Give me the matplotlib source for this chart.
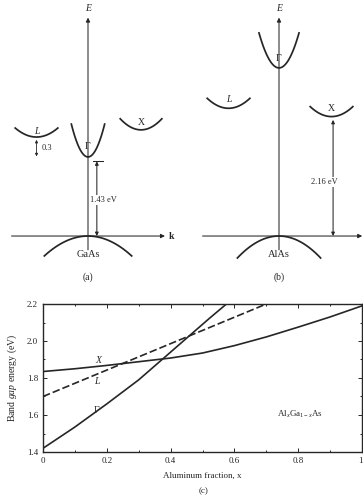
import numpy as np
import matplotlib
matplotlib.use("Agg")
import matplotlib.pyplot as plt
import matplotlib.ticker as ticker


# -------------------------------------------------
# Matplotlib configuration
# -------------------------------------------------

plt.rcParams['font.family'] = ['Liberation Serif', 'DejaVu Serif']
plt.rcParams['mathtext.fontset'] = 'custom'
plt.rcParams['mathtext.rm'] = 'Liberation Serif'
plt.rcParams['mathtext.it'] = 'Liberation Serif:italic'

INK = "#262626"


# -------------------------------------------------
# Band diagram data (valleys: L, Gamma, X)
# -------------------------------------------------

VALLEY_NAMES = ["L", "Γ", "X"]

GAAS_VALLEY_K = [-0.99, 0.0, 1.02]
GAAS_VALLEY_E = [1.79, 1.43, 1.92]
GAAS_VALLEY_HALFWIDTH = [0.41, 0.32, 0.40]
GAAS_VALLEY_CURV = [0.97, 5.8, 1.25]
GAAS_LABEL_E = [1.89, 1.62, 2.06]
GAAS_VB_HALFWIDTH = 0.84
GAAS_VB_CURV = 0.51
GAAS_GAP = 1.43
GAAS_LG_SPLIT = 0.3

ALAS_VALLEY_K = [-0.97, 0.0, 1.01]
ALAS_VALLEY_E = [2.31, 3.04, 2.16]
ALAS_VALLEY_HALFWIDTH = [0.41, 0.385, 0.41]
ALAS_VALLEY_CURV = [1.07, 4.27, 1.07]
ALAS_LABEL_E = [2.46, 3.21, 2.31]
ALAS_VB_HALFWIDTH = 0.80
ALAS_VB_CURV = 0.62
ALAS_GAP = 2.16


# -------------------------------------------------
# Band gap vs aluminum fraction data
# -------------------------------------------------

GAMMA_X = [0.0, 0.1, 0.2, 0.3, 0.38, 0.46, 0.52, 0.575]
GAMMA_E = [1.42, 1.535, 1.66, 1.79, 1.91, 2.03, 2.12, 2.2]

XVAL_X = [0.0, 0.1, 0.2, 0.3, 0.4, 0.5, 0.6, 0.7, 0.8, 0.9, 1.0]
XVAL_E = [1.835, 1.85, 1.868, 1.888, 1.908, 1.935, 1.975, 2.022, 2.075, 2.13, 2.19]

LVAL_X = [0.0, 0.7]
LVAL_E = [1.70, 2.2]


# -------------------------------------------------
# Band diagram
# -------------------------------------------------

def parabola(ax, k0, e0, half, curv, sign=1):

    k = np.linspace(k0 - half, k0 + half, 60)
    ax.plot(k, e0 + sign * curv * (k - k0) ** 2, color=INK, lw=1.25)


def band_diagram(ax, valley_k, valley_e, halfw, curv, label_e,
                 vb_half, vb_curv, material, panel, k_right):

    ax.set_ylim(-0.976, 4.268)
    ax.axis("off")

    # axes with arrows
    ax.annotate("", xy=(0, 3.95), xytext=(0, -0.25),
                arrowprops=dict(arrowstyle="-|>", lw=0.75, color=INK,
                                mutation_scale=6, shrinkA=0, shrinkB=0))
    ax.annotate("", xy=(k_right, 0), xytext=(-1.47, 0),
                arrowprops=dict(arrowstyle="-|>", lw=0.75, color=INK,
                                mutation_scale=6, shrinkA=0, shrinkB=0))
    ax.text(0, 4.11, "E", style="italic", fontsize=7, color=INK,
            ha="center", va="center")
    ax.text(k_right + 0.13, 0, "k", fontweight="bold", fontsize=7,
            color=INK, ha="center", va="center")

    # conduction valleys
    for name, k0, e0, h, c, le in zip(VALLEY_NAMES, valley_k, valley_e,
                                      halfw, curv, label_e):
        parabola(ax, k0, e0, h, c)
        style = "italic" if name == "L" else "normal"
        ax.text(k0, le, name, style=style, fontsize=7, color=INK,
                ha="center", va="center")

    # valence band
    parabola(ax, 0, 0, vb_half, vb_curv, sign=-1)

    ax.text(0, -0.34, material, fontsize=7.5, color=INK,
            ha="center", va="center")
    ax.text(0, -0.74, panel, fontsize=7, color=INK,
            ha="center", va="center")


def gap_arrow(ax, k, e_top, label, label_k, label_e):

    ax.annotate("", xy=(k, e_top), xytext=(k, 0),
                arrowprops=dict(arrowstyle="<|-|>", lw=0.75, color=INK,
                                mutation_scale=5, shrinkA=0, shrinkB=0))
    ax.text(label_k, label_e, label, fontsize=6, color=INK,
            ha="center", va="center",
            bbox=dict(facecolor="white", edgecolor="none", pad=0.6))


# -------------------------------------------------
# Main
# -------------------------------------------------

def main():

    fig = plt.figure(figsize=(3.63, 5.0), dpi=100)

    # (a) GaAs
    ax_a = fig.add_axes([0, 210 / 500, 180 / 363, 290 / 500])
    ax_a.set_xlim(-88 / 52, 92 / 52)
    band_diagram(ax_a, GAAS_VALLEY_K, GAAS_VALLEY_E, GAAS_VALLEY_HALFWIDTH,
                 GAAS_VALLEY_CURV, GAAS_LABEL_E, GAAS_VB_HALFWIDTH,
                 GAAS_VB_CURV, "GaAs", "(a)", 1.48)
    gap_arrow(ax_a, 0.17, GAAS_GAP - 0.08, "1.43 eV", 0.30, 0.65)
    ax_a.plot([0.10, 0.29], [GAAS_GAP - 0.08] * 2, color=INK, lw=0.75)

    l_min = GAAS_VALLEY_E[0]
    ax_a.annotate("", xy=(GAAS_VALLEY_K[0], l_min - 0.05),
                  xytext=(GAAS_VALLEY_K[0], l_min - 0.05 - GAAS_LG_SPLIT),
                  arrowprops=dict(arrowstyle="<|-|>", lw=0.6, color=INK,
                                  mutation_scale=4, shrinkA=0, shrinkB=0))
    ax_a.text(GAAS_VALLEY_K[0] + 0.1, l_min - 0.05 - GAAS_LG_SPLIT / 2,
              "0.3", fontsize=6, color=INK, ha="left", va="center")

    # (b) AlAs
    ax_b = fig.add_axes([180 / 363, 210 / 500, 183 / 363, 290 / 500])
    ax_b.set_xlim(-99 / 52, 84 / 52)
    band_diagram(ax_b, ALAS_VALLEY_K, ALAS_VALLEY_E, ALAS_VALLEY_HALFWIDTH,
                 ALAS_VALLEY_CURV, ALAS_LABEL_E, ALAS_VB_HALFWIDTH,
                 ALAS_VB_CURV, "AlAs", "(b)", 1.60)
    gap_arrow(ax_b, 1.04, ALAS_GAP - 0.06, "2.16 eV", 0.87, 0.98)

    # (c) band gap vs composition
    ax = fig.add_axes([43 / 363, 48 / 500, 319 / 363, 148 / 500])

    ax.plot(GAMMA_X, GAMMA_E, color=INK, lw=1.2)
    ax.plot(XVAL_X, XVAL_E, color=INK, lw=1.2)
    ax.plot(LVAL_X, LVAL_E, color=INK, lw=1.2, linestyle=(0, (4.5, 1.8)))

    ax.text(0.173, 1.893, "X", style="italic", fontsize=7, color=INK,
            ha="center", va="center")
    ax.text(0.17, 1.78, "L", style="italic", fontsize=7, color=INK,
            ha="center", va="center")
    ax.text(0.168, 1.627, "Γ", fontsize=7, color=INK,
            ha="center", va="center")
    ax.text(0.805, 1.605, r"Al$_x$Ga$_{1-x}$As", fontsize=6.5, color=INK,
            ha="center", va="center")

    ax.set_xlim(0, 1)
    ax.set_ylim(1.4, 2.2)
    ax.xaxis.set_major_locator(ticker.MultipleLocator(0.2))
    ax.xaxis.set_minor_locator(ticker.MultipleLocator(0.1))
    ax.yaxis.set_major_locator(ticker.MultipleLocator(0.2))
    ax.yaxis.set_minor_locator(ticker.MultipleLocator(0.1))
    ax.xaxis.set_major_formatter(
        ticker.FuncFormatter(lambda v, p: "0" if v == 0 else
                             ("1." if abs(v - 1) < 1e-9 else "%.1f" % v)))
    ax.yaxis.set_major_formatter(ticker.FormatStrFormatter("%.1f"))

    ax.tick_params(axis="both", which="both", direction="in",
                   top=True, right=True, color=INK, labelcolor=INK,
                   labelsize=6.5, width=0.7)
    ax.tick_params(axis="both", which="major", length=3, pad=3.5)
    ax.tick_params(axis="both", which="minor", length=1.5)

    for spine in ax.spines.values():
        spine.set_color(INK)
        spine.set_linewidth(1.0)

    ax.set_xlabel("Aluminum fraction, x", fontsize=6.5, color=INK,
                  labelpad=5)
    ax.set_ylabel(r"Band $gap$ energy (eV)", fontsize=7, color=INK,
                  labelpad=6)

    fig.text(204 / 363, 1 - 491 / 500, "(c)", fontsize=6.5, color=INK,
             ha="center", va="center")

    fig.savefig("out.png", dpi=100)
    plt.close(fig)


if __name__ == "__main__":
    main()
